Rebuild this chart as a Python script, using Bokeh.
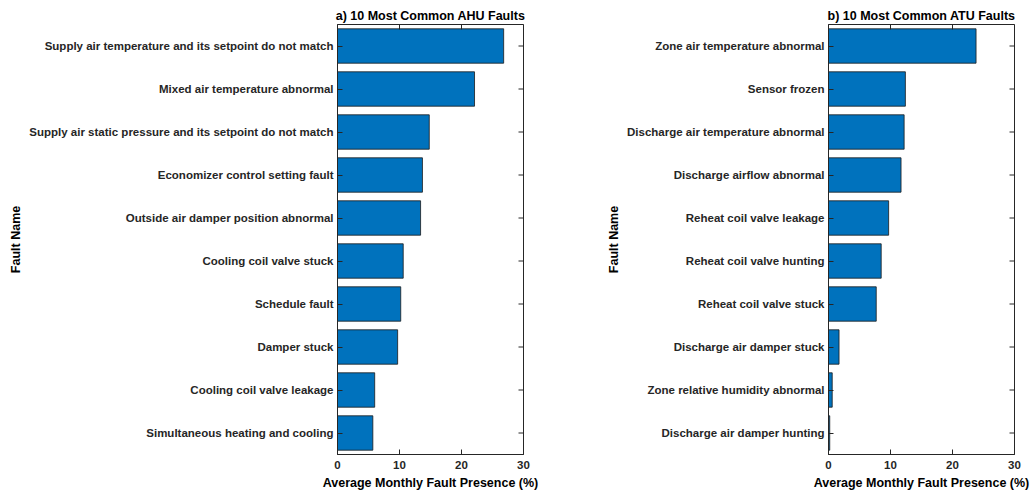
import math

from bokeh.plotting import figure
from bokeh.layouts import row
from bokeh.models import Range1d, FixedTicker, ColumnDataSource
from bokeh.transform import dodge
from bokeh.embed import file_html
from bokeh.resources import INLINE

# Most common AHU faults (average monthly fault presence, %)
ahu_faults = [
    "Supply air temperature and its setpoint do not match",
    "Mixed air temperature abnormal",
    "Supply air static pressure and its setpoint do not match",
    "Economizer control setting fault",
    "Outside air damper position abnormal",
    "Cooling coil valve stuck",
    "Schedule fault",
    "Damper stuck",
    "Cooling coil valve leakage",
    "Simultaneous heating and cooling",
]
ahu_values = [26.8, 22.1, 14.8, 13.7, 13.4, 10.6, 10.2, 9.7, 6.0, 5.7]

# Most common ATU faults (average monthly fault presence, %)
atu_faults = [
    "Zone air temperature abnormal",
    "Sensor frozen",
    "Discharge air temperature abnormal",
    "Discharge airflow abnormal",
    "Reheat coil valve leakage",
    "Reheat coil valve hunting",
    "Reheat coil valve stuck",
    "Discharge air damper stuck",
    "Zone relative humidity abnormal",
    "Discharge air damper hunting",
]
atu_values = [23.8, 12.4, 12.2, 11.7, 9.7, 8.5, 7.7, 1.7, 0.6, 0.2]

x_ticks = [0, 10, 20, 30]
x_max = 30

FONT = "Liberation Sans"
INK = "#262626"
BAR = "#0072BD"


def style_axis(ax):
    ax.major_tick_in = 5
    ax.major_tick_out = 0
    ax.minor_tick_in = 0
    ax.minor_tick_out = 0
    ax.axis_line_color = INK
    ax.major_tick_line_color = INK
    ax.major_label_text_font = FONT
    ax.major_label_text_font_style = "bold"
    ax.major_label_text_color = INK
    ax.major_label_text_font_size = "11.5px"
    ax.axis_label_text_font = FONT
    ax.axis_label_text_font_style = "bold"
    ax.axis_label_text_font_size = "12.5px"
    ax.axis_label_text_color = "#000000"


def panel(title, faults, values, width, left, right):
    p = figure(width=width, height=493,
               y_range=list(reversed(faults)), x_range=Range1d(0, x_max),
               output_backend="svg", toolbar_location=None,
               min_border_left=left, min_border_right=right,
               min_border_top=24, min_border_bottom=39)
    p.hbar(y=faults, right=values, height=0.8, left=0,
           fill_color=BAR, line_color="#1a1a1a", line_width=0.8)

    p.title.text = title
    p.title.align = "center"
    p.title.text_font = FONT
    p.title.text_font_style = "bold"
    p.title.text_font_size = "12.5px"
    p.title.text_color = "#000000"
    p.title.standoff = 4

    p.xgrid.visible = False
    p.ygrid.visible = False
    p.outline_line_color = INK
    p.outline_line_alpha = 1
    p.background_fill_color = "white"
    p.border_fill_color = "white"

    xa = p.xaxis[0]
    xa.ticker = FixedTicker(ticks=x_ticks)
    xa.axis_label = "Average Monthly Fault Presence (%)"
    style_axis(xa)
    xa.major_label_standoff = 6
    xa.axis_label_standoff = 4

    ya = p.yaxis[0]
    ya.axis_label = "Fault Name"
    style_axis(ya)
    ya.major_label_standoff = 4
    ya.axis_label_standoff = 3

    # mirrored inward tick marks on the right edge (one per fault) and
    # the top edge (one per x tick); the frame clips the outer half
    p.scatter(x=[x_max] * len(faults), y=faults, marker="dash", size=10,
              line_color=INK, line_width=1)
    top = ColumnDataSource(dict(x=x_ticks, y=[faults[0]] * len(x_ticks)))
    p.scatter(x="x", y=dodge("y", 0.5, range=p.y_range), source=top,
              marker="dash", size=10, angle=math.pi / 2,
              line_color=INK, line_width=1)
    return p


p1 = panel("a) 10 Most Common AHU Faults", ahu_faults, ahu_values, 540, 337, 17)
p2 = panel("b) 10 Most Common ATU Faults", atu_faults, atu_values, 492, 288, 18)

layout = row(p1, p2)
open("out.html", "w").write(file_html(layout, INLINE))
